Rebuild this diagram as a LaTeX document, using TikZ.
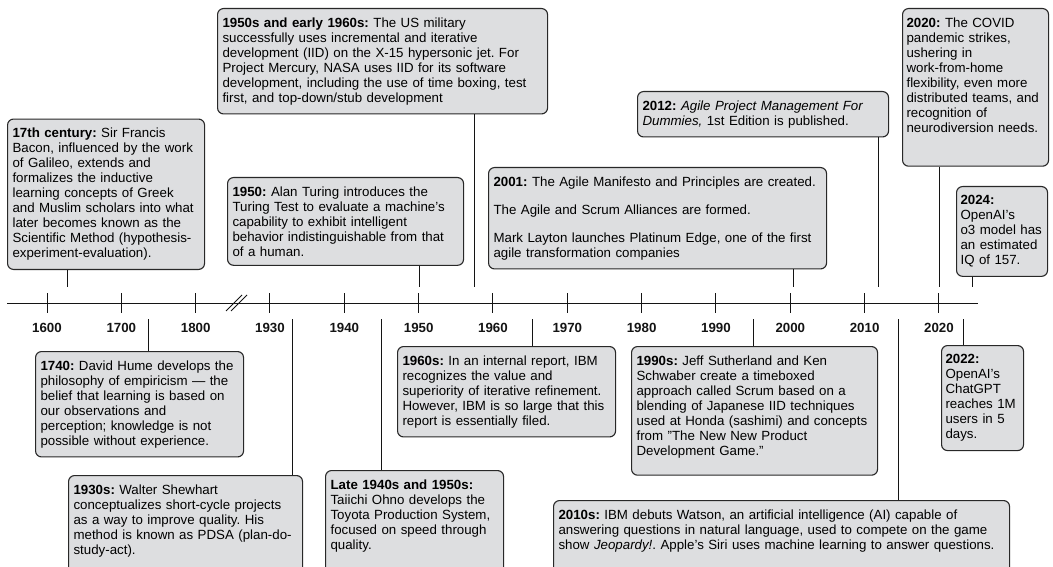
\documentclass[tikz,border=0pt]{standalone}
\usepackage{fontspec}
\setmainfont{Liberation Sans}
\usetikzlibrary{calc}
\definecolor{cEvent}{RGB}{221, 222, 224}
\definecolor{bEvent}{RGB}{40, 40, 40}
\definecolor{tDark}{RGB}{20, 20, 20}

\begin{document}
\begin{tikzpicture}[
    x=1pt, y=-1pt,
    font=\fontsize{13.3}{15}\selectfont,
    event/.style={
        draw=bEvent,
        fill=cEvent,
        line width=1.1pt,
        rounded corners=6pt,
        align=left,
        inner xsep=5pt,
        inner ysep=9pt,
        text width=#1,
        execute at begin node={\frenchspacing\hyphenpenalty=10000}
    },
    stem/.style={line width=1pt, color=tDark},
    yearlabel/.style={font=\fontsize{13.3}{15}\selectfont\bfseries, text=tDark}
]

\useasboundingbox (0,0) rectangle (1053,567);
\clip (0,0) rectangle (1053,567);

% Timeline axis
\coordinate (axL) at (7,303);
\coordinate (axR) at (978,303);
\draw[stem] (axL) -- (axR);

\foreach \yr [count=\i from 0] in {1600,1700,1800,1930,1940,1950,1960,1970,1980,1990,2000,2010,2020} {
    \coordinate (t\yr) at ({47+74.33*\i},303);
    \draw[stem] ($(t\yr)+(0,-10)$) -- ($(t\yr)+(0,10)$);
    \node[yearlabel] (l\yr) at ({47+74.33*\i},328) {\yr};
}

% Break between 1800 and 1930
\draw[stem, line width=0.8pt] (226,311) -- (242,295);
\draw[stem, line width=0.8pt] (231,311) -- (247,295);

% Above the axis
\node[event=187, anchor=south west] (c17) at (7,270) {
    \textbf{17th century:} Sir Francis\\
    Bacon, influenced by the work\\
    of Galileo, extends and\\
    formalizes the inductive\\
    learning concepts of Greek\\
    and Muslim scholars into what\\
    later becomes known as the\\
    Scientific Method (hypothesis-\\
    experiment-evaluation).
};

\node[event=320, anchor=north west] (iid) at (217,8) {
    \textbf{1950s and early 1960s:} The US military\\
    successfully uses incremental and iterative\\
    development (IID) on the X-15 hypersonic jet. For\\
    Project Mercury, NASA uses IID for its software\\
    development, including the use of time boxing, test\\
    first, and top-down/stub development
};

\node[event=226, anchor=north west] (turing) at (227,177) {
    \textbf{1950:} Alan Turing introduces the\\
    Turing Test to evaluate a machine's\\
    capability to exhibit intelligent\\
    behavior indistinguishable from that\\
    of a human.
};

\node[event=328, anchor=north west] (agile) at (488,167) {
    \textbf{2001:} The Agile Manifesto and Principles are created.\\[13pt]
    The Agile and Scrum Alliances are formed.\\[13pt]
    Mark Layton launches Platinum Edge, one of the first\\
    agile transformation companies
};

\node[event=241, anchor=north west] (book) at (637,91) {
    \textbf{2012:} \textit{Agile Project Management For}\\
    \textit{Dummies,} 1st Edition is published.
};

\node[event=138, inner xsep=4pt, anchor=north west] (covid) at (902,8) {
    \textbf{2020:} The COVID\\
    pandemic strikes,\\
    ushering in\\
    work-from-home\\
    flexibility, even more\\
    distributed teams, and\\
    recognition of\\
    neurodiversion needs.\\[10pt]\mbox{}
};

\node[event=83, inner xsep=4pt, anchor=north west] (othree) at (956,186) {
    \textbf{2024:}\\
    OpenAI's\\
    o3 model has\\
    an estimated\\
    IQ of 157.
};

\coordinate (s17) at (67,287);
\coordinate (siid) at (474,287);
\coordinate (sturing) at (419,287);
\coordinate (sagile) at (793,287);
\coordinate (sbook) at (878,287);
\coordinate (scovid) at (939,287);
\coordinate (sothree) at (972,287);

\draw[stem] (s17 |- c17.south) -- (s17);
\draw[stem] (siid |- iid.south) -- (siid);
\draw[stem] (sturing |- turing.south) -- (sturing);
\draw[stem] (sagile |- agile.south) -- (sagile);
\draw[stem] (sbook |- book.south) -- (sbook);
\draw[stem] (scovid |- covid.south) -- (scovid);
\draw[stem] (sothree |- othree.south) -- (sothree);

% Below the axis
\node[event=198, anchor=north west] (hume) at (35,351) {
    \textbf{1740:} David Hume develops the\\
    philosophy of empiricism --- the\\
    belief that learning is based on\\
    our observations and\\
    perception; knowledge is not\\
    possible without experience.
};

\node[event=224, anchor=north west] (pdsa) at (68,475) {
    \textbf{1930s:} Walter Shewhart\\
    conceptualizes short-cycle projects\\
    as a way to improve quality. His\\
    method is known as PDSA (plan-do-\\
    study-act).\\[6pt]\mbox{}
};

\node[event=168, anchor=north west] (toyota) at (325,470) {
    \textbf{Late 1940s and 1950s:}\\
    Taiichi Ohno develops the\\
    Toyota Production System,\\
    focused on speed through\\
    quality.\\[6pt]\mbox{}
};

\node[event=208, anchor=north west] (ibm) at (397,346) {
    \textbf{1960s:} In an internal report, IBM\\
    recognizes the value and\\
    superiority of iterative refinement.\\
    However, IBM is so large that this\\
    report is essentially filed.
};

\node[event=236, anchor=north west] (scrum) at (631,346) {
    \textbf{1990s:} Jeff Sutherland and Ken\\
    Schwaber create a timeboxed\\
    approach called Scrum based on a\\
    blending of Japanese IID techniques\\
    used at Honda (sashimi) and concepts\\
    from "The New New Product\\
    Development Game."\\[-4pt]\mbox{}
};

\node[event=446, anchor=north west] (watson) at (553,500) {
    \textbf{2010s:} IBM debuts Watson, an artificial intelligence (AI) capable of\\
    answering questions in natural language, used to compete on the game\\
    show \textit{Jeopardy!}. Apple's Siri uses machine learning to answer questions.\\[6pt]\mbox{}
};

\node[event=74, inner xsep=4pt, anchor=north west] (chatgpt) at (941,345) {
    \textbf{2022:}\\
    OpenAI's\\
    ChatGPT\\
    reaches 1M\\
    users in 5\\
    days.
};

\coordinate (shume) at (148,319);
\coordinate (spdsa) at (292,319);
\coordinate (stoyota) at (381,319);
\coordinate (sibm) at (532,319);
\coordinate (sscrum) at (753,319);
\coordinate (swatson) at (898,319);
\coordinate (schatgpt) at (963,319);

\draw[stem] (shume) -- (shume |- hume.north);
\draw[stem] (spdsa) -- (spdsa |- pdsa.north);
\draw[stem] (stoyota) -- (stoyota |- toyota.north);
\draw[stem] (sibm) -- (sibm |- ibm.north);
\draw[stem] (sscrum) -- (sscrum |- scrum.north);
\draw[stem] (swatson) -- (swatson |- watson.north);
\draw[stem] (schatgpt) -- (schatgpt |- chatgpt.north);

\end{tikzpicture}
\end{document}
